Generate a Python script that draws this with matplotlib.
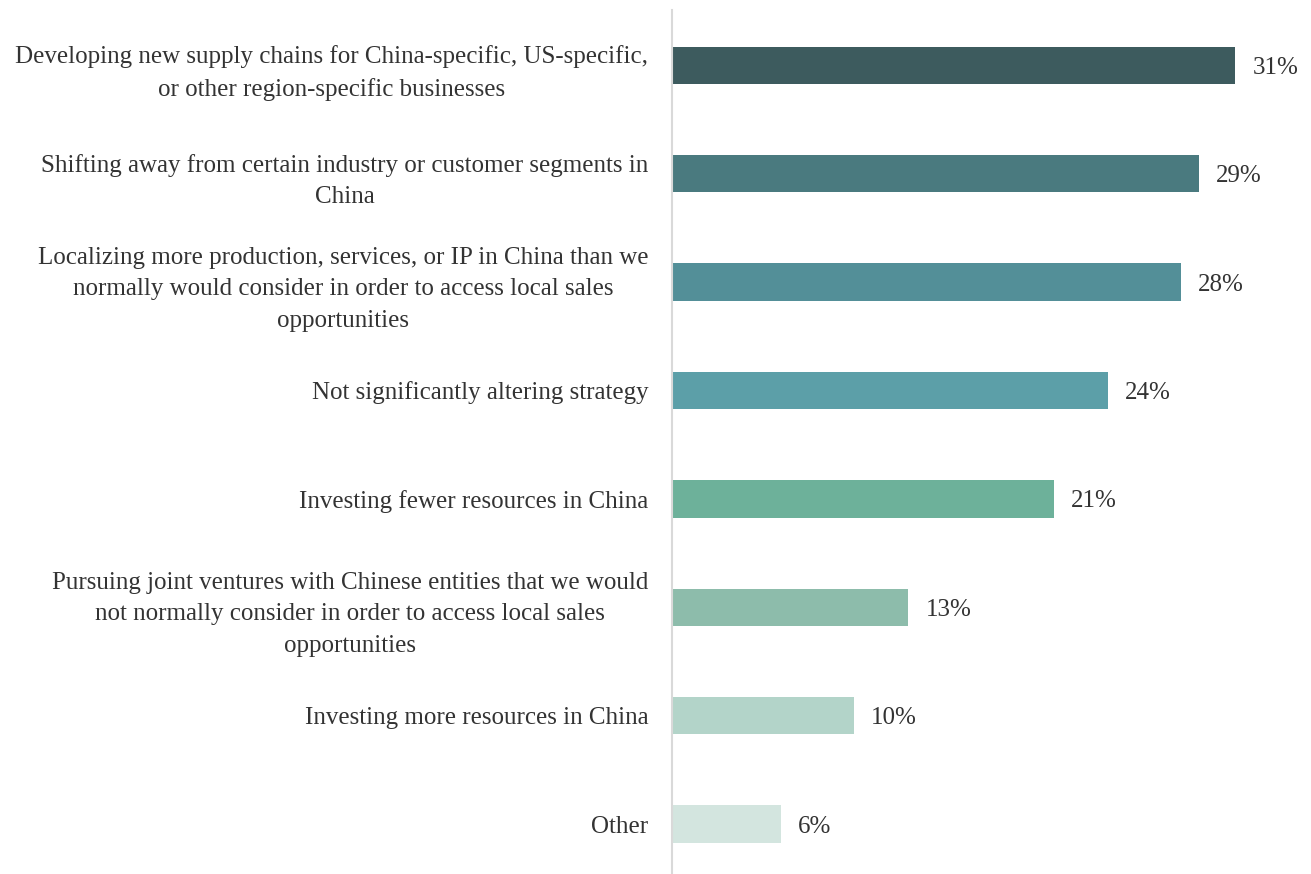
import matplotlib.pyplot as plt

categories = [
    "Developing new supply chains for China-specific, US-specific,\nor other region-specific businesses",
    "Shifting away from certain industry or customer segments in\nChina",
    "Localizing more production, services, or IP in China than we\nnormally would consider in order to access local sales\nopportunities",
    "Not significantly altering strategy",
    "Investing fewer resources in China",
    "Pursuing joint ventures with Chinese entities that we would\nnot normally consider in order to access local sales\nopportunities",
    "Investing more resources in China",
    "Other",
]
values = [31, 29, 28, 24, 21, 13, 10, 6]
colors = ["#3d5b5e", "#4a7a7f", "#538f98", "#5c9fa8",
          "#6db19a", "#8dbcab", "#b3d4c9", "#d3e5df"]

plt.rcParams['font.family'] = ['Liberation Serif', 'DejaVu Serif']
text_color = '#333333'

fig = plt.figure(figsize=(13.11, 8.74), dpi=100)
ax = fig.add_axes([0.5126, 0.0, 0.485, 0.9886])

pos = list(range(len(values)))
ax.barh(pos, values, height=0.345, color=colors)

for y, v in zip(pos, values):
    ax.text(v + 0.95, y, f"{v}%", va='center_baseline', ha='left',
            fontsize=18, color=text_color)

ax.set_xlim(0, 35)
ax.set_ylim(7.46, -0.51)

ax.set_yticks(pos)
ax.set_yticklabels(categories, fontsize=18, color=text_color,
                   linespacing=1.55)
for t in ax.get_yticklabels():
    t.set_multialignment('center')
ax.tick_params(axis='y', length=0, pad=17)
ax.set_xticks([])

for side in ['top', 'right', 'bottom']:
    ax.spines[side].set_visible(False)
ax.spines['left'].set_color('#d9d9d9')
ax.spines['left'].set_linewidth(1.5)

fig.savefig('out.png', dpi=100)
